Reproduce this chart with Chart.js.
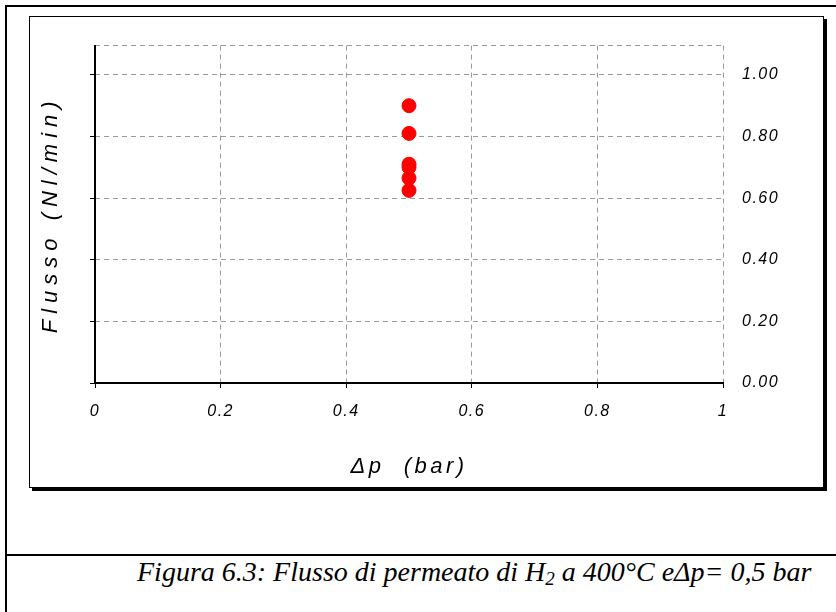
<!DOCTYPE html>
<html>
<head>
<meta charset="utf-8">
<script src="https://cdn.jsdelivr.net/npm/chart.js@4.4.1/dist/chart.umd.min.js"></script>
<style>
  html, body { margin: 0; padding: 0; background: #fff; }
  body { width: 836px; height: 612px; position: relative; overflow: hidden; }
  #frame { position: absolute; left: 5px; top: 5px; width: 840px; height: 620px;
           border-left: 2px solid #000; border-top: 2px solid #000; }
  #divider { position: absolute; left: 5px; top: 554px; width: 840px; height: 0;
             border-top: 2px solid #000; }
  #box { position: absolute; left: 29px; top: 16px; width: 793px; height: 470px;
         border: 1px solid #000; box-shadow: 3px 3px 0 #000; background: #fff; }
  #chart1 { position: absolute; left: 0; top: 0; }
  #caption { position: absolute; left: 137px; top: 556px; white-space: nowrap;
             font-family: 'Liberation Serif', 'Times New Roman', serif; font-style: italic;
             font-size: 28px; color: #000; }
  #caption sub { font-size: 19px; vertical-align: -4px; line-height: 0; }
</style>
</head>
<body>
<div id="frame"></div>
<div id="divider"></div>
<div id="box"><canvas id="chart1" width="792" height="469"></canvas></div>
<div id="caption">Figura 6.3: Flusso di permeato di H<sub>2</sub> a 400°C eΔp= 0,5 bar</div>
<script>
const deltaP = [0.5, 0.5, 0.5, 0.5, 0.5, 0.5];
const flusso = [0.90, 0.81, 0.71, 0.70, 0.665, 0.625];
const xTicks = [0, 0.2, 0.4, 0.6, 0.8, 1];
const yTicks = [0, 0.2, 0.4, 0.6, 0.8, 1.0];
const yMax = 1.095;

const gridGray = '#9a9a9a';
const dash = [5, 4];
const sans = "'Liberation Sans', Arial, sans-serif";
const tickFont = { family: sans, style: 'italic', size: 16 };

// wider letters like the original
const spacing = {
  id: 'spacing',
  beforeDraw(chart) { chart.ctx.letterSpacing = '1.5px'; }
};

// extra letter spacing just for an axis title
function spaceTitle(scale, px) {
  if (scale._spaced) return;
  const orig = scale.drawTitle.bind(scale);
  scale.drawTitle = function () {
    const c = this.ctx;
    const old = c.letterSpacing;
    c.letterSpacing = px;
    orig();
    c.letterSpacing = old;
  };
  scale._spaced = true;
}

const points = deltaP.map((x, i) => ({ x: x, y: flusso[i] }));

const myChart = new Chart(document.getElementById('chart1'), {
  type: 'scatter',
  data: {
    datasets: [{
      data: points,
      xAxisID: 'x',
      yAxisID: 'y',
      backgroundColor: '#ff0000',
      borderColor: '#ff0000',
      pointRadius: 7,
      pointHoverRadius: 7
    }]
  },
  plugins: [spacing],
  options: {
    responsive: false,
    animation: false,
    layout: { padding: { top: 27, left: 0, right: 0, bottom: 0 } },
    plugins: { legend: { display: false }, tooltip: { enabled: false } },
    scales: {
      // short black tick marks under the bottom axis
      xMarks: {
        type: 'linear', position: 'bottom', min: 0, max: 1, weight: 0,
        afterBuildTicks: (s) => { s.ticks = xTicks.map(v => ({ value: v })); },
        afterFit: (s) => { s.height = 5; },
        border: { color: '#000', width: 2 },
        grid: { drawOnChartArea: false, tickColor: '#000', tickLength: 5 },
        ticks: { display: false }
      },
      x: {
        type: 'linear', position: 'bottom', min: 0, max: 1, weight: 1,
        afterBuildTicks: (s) => { s.ticks = xTicks.map(v => ({ value: v })); },
        afterFit: (s) => { s.height = 98; spaceTitle(s, '3.5px'); },
        border: { display: false, dash: dash },
        grid: { color: gridGray, drawTicks: false },
        ticks: { color: '#000', font: tickFont, padding: 14, maxRotation: 0,
                 callback: (v) => (v === 0 || v === 1) ? String(v) : v.toFixed(1) },
        title: { display: true, text: 'Δp  (bar)', color: '#000',
                 font: { family: sans, style: 'italic', size: 22 },
                 padding: { top: 0, bottom: 6 } }
      },
      y: {
        type: 'linear', position: 'right', min: 0, max: yMax,
        afterBuildTicks: (s) => { s.ticks = yTicks.concat([yMax]).map(v => ({ value: v })); },
        afterFit: (s) => { s.width = 99; },
        border: { display: false, dash: dash },
        grid: { color: gridGray, drawTicks: false },
        ticks: { color: '#000', font: tickFont, padding: 19,
                 callback: (v) => v > 1.05 ? '' : v.toFixed(2) }
      },
      yLeft: {
        type: 'linear', position: 'left', min: 0, max: yMax,
        afterBuildTicks: (s) => { s.ticks = yTicks.map(v => ({ value: v })); },
        afterFit: (s) => { s.width = 65; spaceTitle(s, '6px'); },
        border: { color: '#000', width: 2 },
        grid: { drawOnChartArea: false, tickColor: '#000', tickLength: 5 },
        ticks: { display: false },
        title: { display: true, text: 'Flusso (Nl/min)', color: '#000',
                 font: { family: sans, style: 'italic', size: 22 },
                 padding: { top: 8, bottom: 0 } }
      }
    }
  }
});
</script>
</body>
</html>
